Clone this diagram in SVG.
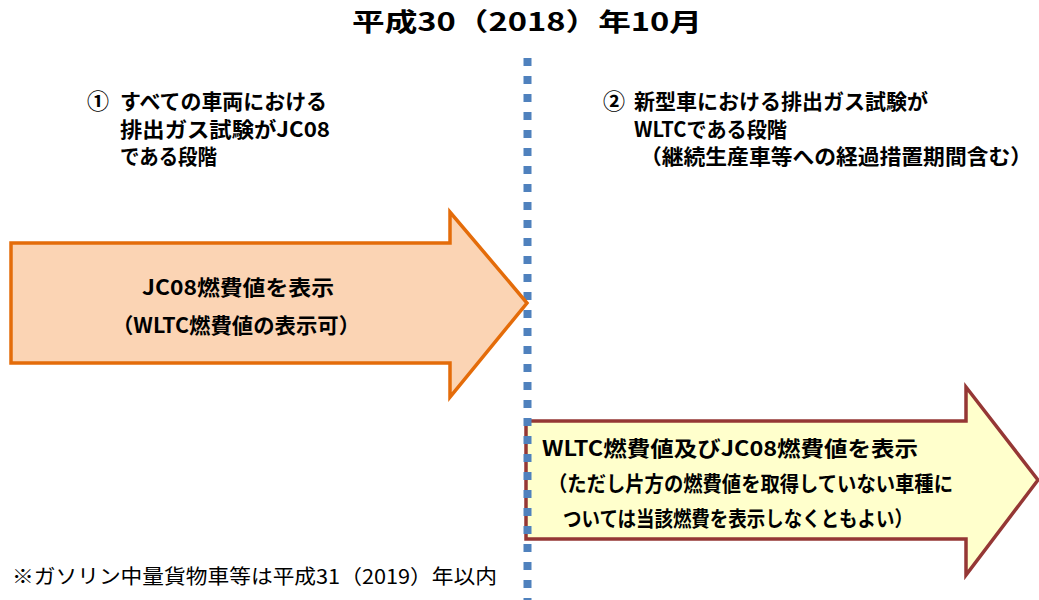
<svg xmlns="http://www.w3.org/2000/svg" width="1039" height="600" viewBox="0 0 1039 600">
<style>
.t{font-family:"Noto Sans CJK JP","Noto Sans",sans-serif;font-weight:700;fill:#000;font-size:21px;}
.n{font-family:"Noto Sans CJK JP","Noto Sans",sans-serif;font-weight:400;fill:#000;}
.orange{fill:#FBD4B4;stroke:#E46C0A;stroke-width:3.5;stroke-linejoin:miter;}
.yellow{fill:#FFFFCC;stroke:#953735;stroke-width:3.5;stroke-linejoin:miter;}
.divider{stroke:#4F81BD;stroke-width:8;stroke-dasharray:8 10;fill:none;}
</style>
<rect width="1039" height="600" fill="#FFFFFF"/>
<g id="title">
<text class="t" x="352" y="31" style="font-size:25px" textLength="350" lengthAdjust="spacingAndGlyphs">平成30（2018）年10月</text>
</g>
<g id="stage1-label">
<text class="t" x="87" y="109" style="font-size:22px">①</text>
<text class="t" x="120" y="109" textLength="207" lengthAdjust="spacingAndGlyphs">すべての車両における</text>
<text class="t" x="120" y="137" textLength="210" lengthAdjust="spacingAndGlyphs">排出ガス試験がJC08</text>
<text class="t" x="120" y="164" textLength="97" lengthAdjust="spacingAndGlyphs">である段階</text>
</g>
<g id="stage2-label">
<text class="t" x="603" y="109" style="font-size:22px">②</text>
<text class="t" x="634" y="109" textLength="294" lengthAdjust="spacingAndGlyphs">新型車における排出ガス試験が</text>
<text class="t" x="634" y="137" textLength="153" lengthAdjust="spacingAndGlyphs">WLTCである段階</text>
<text class="t" x="640" y="164" textLength="392" lengthAdjust="spacingAndGlyphs">（継続生産車等への経過措置期間含む）</text>
</g>
<g id="yellow-arrow">
<polygon class="yellow" points="526,421 966,421 966,387 1038,480 966,575 966,539 526,539"/>
<text class="t" x="542" y="456" textLength="376" lengthAdjust="spacingAndGlyphs">WLTC燃費値及びJC08燃費値を表示</text>
<text class="t" x="548" y="491" textLength="405" lengthAdjust="spacingAndGlyphs">（ただし片方の燃費値を取得していない車種に</text>
<text class="t" x="563" y="526" textLength="350" lengthAdjust="spacingAndGlyphs">ついては当該燃費を表示しなくともよい）</text>
</g>
<g id="connectors">
<line class="divider" x1="527.5" y1="58" x2="527.5" y2="600"/>
</g>
<g id="orange-arrow">
<polygon class="orange" points="11,243 450,243 450,212 527,303 450,397 450,363 11,363"/>
<text class="t" x="142" y="295" textLength="192" lengthAdjust="spacingAndGlyphs">JC08燃費値を表示</text>
<text class="t" x="112" y="333" textLength="248" lengthAdjust="spacingAndGlyphs">（WLTC燃費値の表示可）</text>
</g>
<g id="footnote">
<text class="n" x="12" y="584" style="font-size:20px" textLength="485" lengthAdjust="spacingAndGlyphs">※ガソリン中量貨物車等は平成31（2019）年以内</text>
</g>
</svg>
